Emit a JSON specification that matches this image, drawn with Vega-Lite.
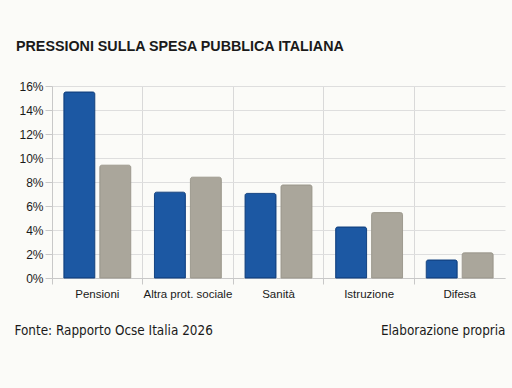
{
  "$schema": "https://vega.github.io/schema/vega-lite/v6.json",
  "autosize": "none",
  "width": 453,
  "height": 192,
  "padding": {"left": 52, "top": 86, "right": 7, "bottom": 110},
  "background": "#fbfbf8",
  "title": {
    "text": "PRESSIONI SULLA SPESA PUBBLICA ITALIANA",
    "anchor": "start",
    "frame": "group",
    "dx": -36,
    "offset": 26,
    "font": "Liberation Sans",
    "fontSize": 14.3,
    "fontWeight": "bold",
    "color": "#1a1a1a"
  },
  "config": {
    "view": {"stroke": null},
    "axis": {"labelFont": "Liberation Sans", "titleFont": "Liberation Sans"}
  },
  "data": {
    "values": [
      {"voce": "Pensioni", "serie": "Serie 1", "valore": 15.5},
      {"voce": "Pensioni", "serie": "Serie 2", "valore": 9.4},
      {"voce": "Altra prot. sociale", "serie": "Serie 1", "valore": 7.15},
      {"voce": "Altra prot. sociale", "serie": "Serie 2", "valore": 8.4},
      {"voce": "Sanità", "serie": "Serie 1", "valore": 7.05},
      {"voce": "Sanità", "serie": "Serie 2", "valore": 7.75},
      {"voce": "Istruzione", "serie": "Serie 1", "valore": 4.25},
      {"voce": "Istruzione", "serie": "Serie 2", "valore": 5.45},
      {"voce": "Difesa", "serie": "Serie 1", "valore": 1.5},
      {"voce": "Difesa", "serie": "Serie 2", "valore": 2.1}
    ]
  },
  "layer": [
    {
      "mark": {"type": "bar", "cornerRadiusTopLeft": 2, "cornerRadiusTopRight": 2, "strokeWidth": 1},
      "encoding": {
        "x": {
          "field": "voce", "type": "nominal", "sort": null,
          "scale": {"paddingInner": 0, "paddingOuter": 0},
          "axis": {
            "title": "Fonte: Rapporto Ocse Italia 2026",
            "titleFont": "DejaVu Sans Condensed",
            "titleFontSize": 13.4,
            "titleFontWeight": "normal",
            "titleColor": "#1a1a1a",
            "titleAnchor": "start",
            "titleAlign": "left",
            "titleBaseline": "alphabetic",
            "titleX": -38,
            "titleY": 56,
            "labelAngle": 0,
            "labelFontSize": 11.5,
            "labelColor": "#1a1a1a",
            "labelPadding": 4,
            "bandPosition": 0,
            "grid": true,
            "gridColor": "#d9d9d9",
            "tickColor": "#c8c8c8",
            "tickSize": 6,
            "domain": true,
            "domainColor": "#c8c8c8"
          }
        },
        "xOffset": {"field": "serie", "type": "nominal", "scale": {"paddingInner": 0.14, "paddingOuter": 0.33}},
        "y": {
          "field": "valore", "type": "quantitative",
          "scale": {"domain": [0, 16], "nice": false},
          "axis": {
            "title": null,
            "values": [0, 2, 4, 6, 8, 10, 12, 14, 16],
            "labelExpr": "datum.value + '%'",
            "labelFontSize": 12,
            "labelColor": "#1a1a1a",
            "labelPadding": 2,
            "tickSize": 7,
            "tickColor": "#c8c8c8",
            "gridColor": "#dedede",
            "domainColor": "#c8c8c8"
          }
        },
        "color": {"field": "serie", "type": "nominal", "legend": null,
          "scale": {"domain": ["Serie 1", "Serie 2"], "range": ["#1c58a3", "#aaa69b"]}},
        "stroke": {"field": "serie", "type": "nominal", "legend": null,
          "scale": {"domain": ["Serie 1", "Serie 2"], "range": ["#134382", "#9e9a8f"]}}
      }
    },
    {
      "mark": {"type": "bar", "opacity": 0},
      "encoding": {
        "x": {"field": "voce", "type": "nominal", "sort": null},
        "xOffset": {"field": "serie", "type": "nominal"},
        "y": {
          "field": "valore", "type": "quantitative",
          "axis": {
            "orient": "right",
            "title": "Elaborazione propria",
            "titleFont": "DejaVu Sans Condensed",
            "titleFontSize": 13.4,
            "titleFontWeight": "normal",
            "titleColor": "#1a1a1a",
            "titleAngle": 0,
            "titleAlign": "right",
            "titleBaseline": "alphabetic",
            "titleX": 0,
            "titleY": 248,
            "labels": false,
            "ticks": false,
            "domain": false,
            "grid": false
          }
        }
      }
    }
  ],
  "resolve": {"axis": {"y": "independent"}}
}
